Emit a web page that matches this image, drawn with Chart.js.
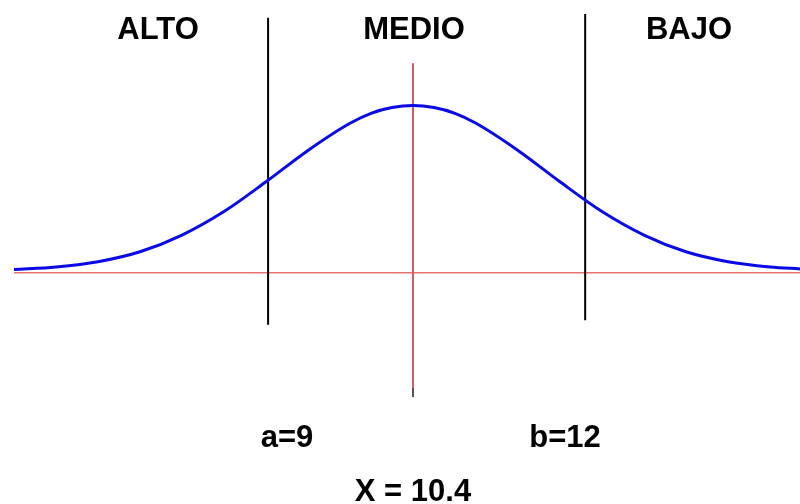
<!DOCTYPE html>
<html>
<head>
<meta charset="utf-8">
<script src="https://cdn.jsdelivr.net/npm/chart.js@4"></script>
<style>
  html, body { margin: 0; padding: 0; background: #fff; }
  #wrap { width: 800px; height: 504px; }
</style>
</head>
<body>
<div id="wrap"><canvas id="chart" width="800" height="504"></canvas></div>
<script>
// Normal curve (x in value units, y as density)
const curveX = [6.6, 7.0, 7.4, 7.8, 8.2, 8.6, 9.0, 9.4, 9.8, 10.0, 10.2, 10.4, 10.6, 10.8, 11.0, 11.4, 11.8, 12.2, 12.6, 13.0, 13.4, 13.8, 14.1];
const curveY = [0.003, 0.008, 0.018, 0.037, 0.069, 0.114, 0.171, 0.231, 0.283, 0.302, 0.313, 0.317, 0.313, 0.302, 0.283, 0.231, 0.171, 0.114, 0.069, 0.037, 0.018, 0.008, 0.004];

// reference lines: where they sit and how far they run
const meanX = 10.4;
const limitX = [9.02, 12.04];          // a=9 and b=12 as drawn
const limitTop = [0.485, 0.492];
const limitBottom = [-0.103, -0.094];
const meanTop = 0.398;
const meanBottom = -0.224;
const meanTip = -0.241;
const baseY = -0.003;

const zoneLabels = ['ALTO', 'MEDIO', 'BAJO'];
const limitLabels = ['a=9', 'b=12'];
const meanLabel = 'X = 10.4';

function seg(x1, y1, x2, y2) {
  return [{ x: x1, y: y1 }, { x: x2, y: y2 }];
}

const lineStyle = { showLine: true, pointRadius: 0, fill: false, tension: 0 };

const datasets = [
  Object.assign({ data: curveX.map((x, i) => ({ x: x, y: curveY[i] })), borderColor: '#0a0ae6', borderWidth: 3, cubicInterpolationMode: 'monotone', order: 0 }, lineStyle, { tension: 0.4 }),
  Object.assign({ data: seg(limitX[0], limitTop[0], limitX[0], limitBottom[0]), borderColor: '#000', borderWidth: 2, order: 1 }, lineStyle),
  Object.assign({ data: seg(limitX[1], limitTop[1], limitX[1], limitBottom[1]), borderColor: '#000', borderWidth: 2, order: 1 }, lineStyle),
  Object.assign({ data: seg(meanX, meanTop, meanX, meanBottom), borderColor: '#d85a5a', borderWidth: 2, order: 2 }, lineStyle),
  Object.assign({ data: seg(meanX, meanBottom, meanX, meanTip), borderColor: '#555', borderWidth: 2, order: 2 }, lineStyle),
  Object.assign({ data: seg(curveX[0], baseY, curveX[curveX.length - 1], baseY), borderColor: '#e87070', borderWidth: 1.5, order: 3 }, lineStyle)
];

const textPlugin = {
  id: 'texts',
  afterDraw(chart) {
    const ctx = chart.ctx;
    ctx.save();
    ctx.fillStyle = '#000';
    ctx.font = 'bold 31px "Liberation Sans", Arial, sans-serif';
    ctx.textAlign = 'center';
    ctx.textBaseline = 'alphabetic';
    const topX = [158, 414, 689];
    zoneLabels.forEach((t, i) => ctx.fillText(t, topX[i], 39));
    const botX = [287, 565];
    limitLabels.forEach((t, i) => ctx.fillText(t, botX[i], 447));
    ctx.fillText(meanLabel, 413, 501);
    ctx.restore();
  }
};

new Chart(document.getElementById('chart'), {
  type: 'scatter',
  data: { datasets: datasets },
  options: {
    responsive: false,
    animation: false,
    layout: { padding: { left: 14, right: 0, top: 0, bottom: 0 } },
    plugins: { legend: { display: false }, tooltip: { enabled: false } },
    scales: {
      x: { type: 'linear', display: false, min: 6.6, max: 14.086 },
      y: { type: 'linear', display: false, min: -0.446, max: 0.519 }
    }
  },
  plugins: [textPlugin]
});
</script>
</body>
</html>
